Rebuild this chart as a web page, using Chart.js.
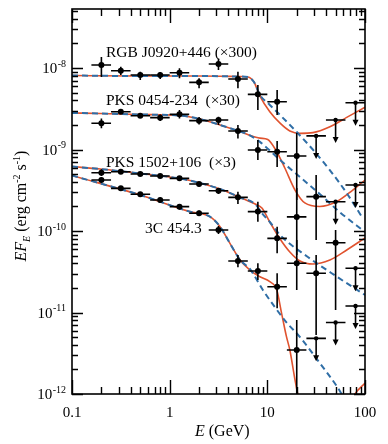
<!DOCTYPE html>
<html>
<head>
<meta charset="utf-8">
<script src="https://cdn.jsdelivr.net/npm/chart.js@4/dist/chart.umd.min.js"></script>
<style>
  html, body { margin: 0; padding: 0; background: #fff; }
  #wrap { width: 388px; height: 444px; position: relative; }
</style>
</head>
<body>
<div id="wrap"><canvas id="sed"></canvas></div>
<script>
// bin centres and bin edges (GeV)
const energies = [0.2, 0.316, 0.5, 0.8, 1.26, 2.0, 3.16, 5.0, 8.0, 12.6, 20.0, 31.6, 50.0, 80.0];
const binEdges = [0.158, 0.251, 0.398, 0.631, 1.0, 1.585, 2.512, 3.981, 6.31, 10.0, 15.85, 25.12, 39.81, 63.1, 100.0];

// RGB J0920+446 (x300)
const rgbFlux = [1.09e-8, 9.27e-9, 8.21e-9, 8.21e-9, 8.75e-9, 6.67e-9, 1.12e-8, 7.33e-9, 4.75e-9, 3.86e-9, 8.32e-10, null, null, null];
const rgbLo   = [7.77e-9, 8.21e-9, 7.13e-9, 7.33e-9, 7.48e-9, 5.63e-9, 9.45e-9, 5.63e-9, 3.05e-9, 2.65e-9, 2.40e-10, null, null, null];
const rgbHi   = [1.365e-8, 1.037e-8, 9.01e-9, 8.93e-9, 9.91e-9, 7.48e-9, 1.31e-8, 9.01e-9, 6.18e-9, 5.37e-9, 1.59e-9, null, null, null];
const rgbUL   = [null, null, null, null, null, null, null, null, null, null, null, 1.47e-9, 2.30e-9, 3.75e-9];

// PKS 0454-234 (x30)
const pks0454Flux = [2.10e-9, 2.91e-9, 2.60e-9, 2.46e-9, 2.70e-9, 2.26e-9, 2.30e-9, 1.69e-9, 9.86e-10, 9.40e-10, 1.49e-10, 2.64e-10, null, null];
const pks0454Lo   = [1.82e-9, 2.73e-9, 2.44e-9, 2.24e-9, 2.40e-9, 2.03e-9, 2.00e-9, 1.37e-9, 7.43e-10, 6.10e-10, 5.08e-11, 7.76e-11, null, null];
const pks0454Hi   = [2.41e-9, 3.14e-9, 2.81e-9, 2.69e-9, 3.05e-9, 2.51e-9, 2.53e-9, 2.00e-9, 1.31e-9, 1.27e-9, 3.37e-10, 4.86e-10, null, null];
const pks0454UL   = [null, null, null, null, null, null, null, null, null, null, null, null, 2.29e-10, 3.67e-10];

// PKS 1502+106 (x3)
const pks1502Flux = [5.19e-10, 5.34e-10, 5.00e-10, 4.73e-10, 4.43e-10, 3.78e-10, 3.12e-10, 2.59e-10, 1.73e-10, 8.13e-11, 4.02e-11, 3.03e-11, 7.18e-11, null];
const pks1502Lo   = [4.73e-10, 5.00e-10, 4.73e-10, 4.47e-10, 4.10e-10, 3.52e-10, 2.84e-10, 2.14e-10, 1.30e-10, 5.33e-11, 1.89e-11, 5.30e-12, 1.07e-11, null];
const pks1502Hi   = [5.71e-10, 5.69e-10, 5.30e-10, 5.00e-10, 4.73e-10, 3.99e-10, 3.37e-10, 3.03e-10, 2.29e-10, 1.13e-10, 7.76e-11, 5.08e-11, 1.03e-10, null];
const pks1502UL   = [null, null, null, null, null, null, null, null, null, null, null, null, null, 3.49e-11];

// 3C 454.3
const c3Flux = [4.22e-10, 3.34e-10, 2.82e-10, 2.40e-10, 1.99e-10, 1.65e-10, 1.03e-10, 4.29e-11, 3.23e-11, 2.07e-11, 3.47e-12, null, null, null];
const c3Lo   = [3.94e-10, 3.10e-10, 2.61e-10, 2.24e-10, 1.84e-10, 1.53e-10, 9.18e-11, 3.59e-11, 2.50e-11, 1.13e-11, 1.0e-12, null, null, null];
const c3Hi   = [4.53e-10, 3.57e-10, 3.01e-10, 2.58e-10, 2.14e-10, 1.79e-10, 1.15e-10, 5.08e-11, 4.02e-11, 3.03e-11, 8.09e-12, null, null, null];
const c3UL   = [null, null, null, null, null, null, null, null, null, null, null, 4.82e-12, 7.54e-12, 1.20e-11];

// absorbed model (red) and intrinsic spectrum (blue dashed)
const rgbModelE = [0.1, 0.5, 2, 5.2, 6.33, 7.3, 8.4, 10.6, 13.5, 17, 21.6, 29.3, 43.7, 65, 100];
const rgbModel  = [8.09e-9, 7.98e-9, 7.98e-9, 7.87e-9, 7.76e-9, 6.73e-9, 4.53e-9, 2.91e-9, 2.11e-9, 1.69e-9, 1.58e-9, 1.61e-9, 1.90e-9, 2.48e-9, 3.30e-9];
const rgbIntrE  = [0.1, 0.5, 2, 5.2, 6.33, 7.3, 8.4, 10.6, 13.5, 19.9, 29.5, 43.6, 64.8, 92.7];
const rgbIntr   = [8.09e-9, 7.98e-9, 7.98e-9, 7.87e-9, 7.76e-9, 6.73e-9, 4.67e-9, 3.52e-9, 2.65e-9, 1.65e-9, 9.86e-10, 5.6e-10, 2.93e-10, 1.50e-10];

const pks0454ModelE = [0.1, 0.194, 0.497, 1.27, 2.04, 3.28, 5.26, 6.63, 8.4, 10.1, 12.2, 15.1, 19.2, 24.2, 34.4, 51.5, 75, 100];
const pks0454Model  = [2.81e-9, 2.77e-9, 2.69e-9, 2.61e-9, 2.37e-9, 2.00e-9, 1.66e-9, 1.49e-9, 1.38e-9, 1.33e-9, 9.86e-10, 5.93e-10, 3.18e-10, 2.21e-10, 2.00e-10, 2.30e-10, 3.18e-10, 4.22e-10];
const pks0454IntrE  = [0.1, 0.194, 0.497, 1.27, 2.04, 3.28, 5.26, 6.63, 8.4, 13.5, 21.6, 34.4, 55, 100];
const pks0454Intr   = [2.81e-9, 2.77e-9, 2.69e-9, 2.61e-9, 2.37e-9, 2.00e-9, 1.66e-9, 1.49e-9, 1.24e-9, 7.43e-10, 4.60e-10, 2.84e-10, 1.71e-10, 9.72e-11];

const pks1502ModelE = [0.1, 0.194, 0.497, 1.27, 2.04, 3.28, 5.26, 7.5, 8.8, 10.6, 13.5, 17, 21.6, 29.3, 43.7, 65, 100];
const pks1502Model  = [6.18e-10, 5.76e-10, 5.08e-10, 4.41e-10, 3.88e-10, 3.28e-10, 2.58e-10, 2.14e-10, 1.92e-10, 1.29e-10, 7.98e-11, 5.53e-11, 4.29e-11, 3.94e-11, 4.41e-11, 5.85e-11, 8.21e-11];
const pks1502IntrE  = [0.1, 0.194, 0.497, 1.27, 2.04, 3.28, 5.26, 7.5, 8.8, 10.6, 13.5, 26, 52, 100];
const pks1502Intr   = [6.18e-10, 5.76e-10, 5.08e-10, 4.41e-10, 3.88e-10, 3.28e-10, 2.58e-10, 2.14e-10, 1.66e-10, 1.29e-10, 8.93e-11, 4.80e-11, 2.73e-11, 1.64e-11];

const c3ModelE = [0.1, 0.497, 1.61, 2.58, 3.28, 4.14, 5.26, 6.63, 8.4, 10.6, 12.5, 14.0, 15.7, 17.0, 19.2, 20.5, 24.2, 34.4, 55, 79, 100];
const c3Model  = [4.80e-10, 2.77e-10, 1.73e-10, 1.50e-10, 1.13e-10, 7.06e-11, 4.41e-11, 3.32e-11, 2.75e-11, 2.39e-11, 1.89e-11, 9.77e-12, 5.05e-12, 3.47e-12, 1.49e-12, 1.0e-12, 6.0e-13, 3.0e-13, 4.0e-13, 1.0e-12, 1.36e-12];
const c3IntrE  = [0.1, 0.497, 1.61, 2.58, 3.28, 4.14, 5.26, 6.63, 9.0, 11.9, 15.9, 21.6, 34.4, 52, 62.7];
const c3Intr   = [4.80e-10, 2.77e-10, 1.73e-10, 1.50e-10, 1.13e-10, 7.06e-11, 4.41e-11, 3.42e-11, 1.89e-11, 1.17e-11, 7.43e-12, 5.00e-12, 2.40e-12, 1.22e-12, 8.4e-13];

const sourceLabels = ['RGB J0920+446 (\u00d7300)', 'PKS 0454-234  (\u00d730)', 'PKS 1502+106  (\u00d73)', '3C 454.3'];
const xTickLabels = ['0.1', '1', '10', '100'];
const yTickExps = [-12, -11, -10, -9, -8];

const RED = '#e0532f';
const BLUE = '#2f6ea6';
const SERIF = '"Liberation Serif", "DejaVu Serif", serif';

const sources = [
	{ flux: rgbFlux, lo: rgbLo, hi: rgbHi, ul: rgbUL },
	{ flux: pks0454Flux, lo: pks0454Lo, hi: pks0454Hi, ul: pks0454UL },
	{ flux: pks1502Flux, lo: pks1502Lo, hi: pks1502Hi, ul: pks1502UL },
	{ flux: c3Flux, lo: c3Lo, hi: c3Hi, ul: c3UL },
];

function toXY(xs, ys) {
	return xs.map((x, i) => ({ x: x, y: ys[i] }));
}

function points(vals) {
	const out = [];
	vals.forEach((v, i) => { if (v != null) out.push({ x: energies[i], y: v }); });
	return out;
}

function modelLine(xs, ys, dashed) {
	return {
		type: 'line',
		data: toXY(xs, ys),
		borderColor: dashed ? BLUE : RED,
		borderWidth: dashed ? 2 : 1.6,
		borderDash: dashed ? [6, 4] : [],
		pointRadius: 0,
		fill: false,
		cubicInterpolationMode: 'monotone',
		order: dashed ? 1 : 2,
	};
}

const datasets = [
	modelLine(rgbModelE, rgbModel, false),
	modelLine(pks0454ModelE, pks0454Model, false),
	modelLine(pks1502ModelE, pks1502Model, false),
	modelLine(c3ModelE, c3Model, false),
	modelLine(rgbIntrE, rgbIntr, true),
	modelLine(pks0454IntrE, pks0454Intr, true),
	modelLine(pks1502IntrE, pks1502Intr, true),
	modelLine(c3IntrE, c3Intr, true),
];
sources.forEach((s) => {
	datasets.push({
		type: 'scatter',
		data: points(s.flux),
		pointRadius: 3,
		pointBackgroundColor: '#000',
		pointBorderWidth: 0,
		order: 0,
	});
	datasets.push({
		type: 'scatter',
		data: points(s.ul),
		pointRadius: 2.2,
		pointBackgroundColor: '#000',
		pointBorderWidth: 0,
		order: 0,
	});
});

// error bars, upper limits, frame, inward ticks and all text
const sedDecor = {
	id: 'sedDecor',
	afterDatasetsDraw(chart) {
		const ctx = chart.ctx;
		const xs = chart.scales.x;
		const ys = chart.scales.y;
		const a = chart.chartArea;
		ctx.save();
		ctx.beginPath();
		ctx.rect(a.left, a.top, a.right - a.left, a.bottom - a.top);
		ctx.clip();
		ctx.strokeStyle = '#000';
		ctx.fillStyle = '#000';
		ctx.lineWidth = 1.6;
		sources.forEach((s) => {
			energies.forEach((e, i) => {
				const x0 = xs.getPixelForValue(binEdges[i]);
				const x1 = xs.getPixelForValue(binEdges[i + 1]);
				const xc = xs.getPixelForValue(e);
				if (s.flux[i] != null) {
					const yc = ys.getPixelForValue(s.flux[i]);
					ctx.beginPath();
					ctx.moveTo(x0, yc); ctx.lineTo(x1, yc);
					ctx.moveTo(xc, ys.getPixelForValue(s.hi[i]));
					ctx.lineTo(xc, ys.getPixelForValue(s.lo[i]));
					ctx.stroke();
				}
				if (s.ul[i] != null) {
					const yc = ys.getPixelForValue(s.ul[i]);
					ctx.beginPath();
					ctx.moveTo(x0, yc); ctx.lineTo(x1, yc);
					ctx.moveTo(xc, yc); ctx.lineTo(xc, yc + 18);
					ctx.stroke();
					ctx.beginPath();
					ctx.moveTo(xc - 3, yc + 17);
					ctx.lineTo(xc + 3, yc + 17);
					ctx.lineTo(xc, yc + 23);
					ctx.closePath();
					ctx.fill();
				}
			});
		});
		ctx.restore();
	},
	afterDraw(chart) {
		const ctx = chart.ctx;
		const xs = chart.scales.x;
		const ys = chart.scales.y;
		const a = chart.chartArea;
		ctx.save();
		ctx.strokeStyle = '#000';
		ctx.fillStyle = '#000';
		ctx.lineWidth = 1.6;
		ctx.strokeRect(a.left, a.top, a.right - a.left, a.bottom - a.top);

		ctx.lineWidth = 1.4;
		ctx.beginPath();
		for (let d = -1; d <= 1; d++) {
			for (let m = 1; m <= 10; m++) {
				const v = m * Math.pow(10, d);
				const px = Math.round(xs.getPixelForValue(v)) + 0.5;
				const len = (m === 1 || m === 10) ? 14 : 7;
				ctx.moveTo(px, a.bottom); ctx.lineTo(px, a.bottom - len);
				ctx.moveTo(px, a.top); ctx.lineTo(px, a.top + len);
			}
		}
		for (let d = -12; d <= -8; d++) {
			for (let m = 1; m <= 9; m++) {
				const v = m * Math.pow(10, d);
				if (v > ys.max) break;
				const py = Math.round(ys.getPixelForValue(v)) + 0.5;
				const len = m === 1 ? 11 : 6;
				ctx.moveTo(a.left, py); ctx.lineTo(a.left + len, py);
				ctx.moveTo(a.right, py); ctx.lineTo(a.right - len, py);
			}
		}
		ctx.stroke();

		// x tick labels
		ctx.font = '15px ' + SERIF;
		ctx.textAlign = 'center';
		ctx.textBaseline = 'alphabetic';
		xTickLabels.forEach((t) => {
			ctx.fillText(t, xs.getPixelForValue(parseFloat(t)), 417);
		});

		// y tick labels: 10 with superscript exponent, right aligned
		yTickExps.forEach((p) => {
			const py = ys.getPixelForValue(Math.pow(10, p));
			const sup = String(p);
			ctx.font = '10px ' + SERIF;
			const wSup = ctx.measureText(sup).width;
			ctx.textAlign = 'right';
			ctx.fillText(sup, 66, py - 1.5);
			ctx.font = '15px ' + SERIF;
			ctx.fillText('10', 66 - wSup - 0.5, py + 5);
		});

		// x axis title
		ctx.textAlign = 'left';
		ctx.font = 'italic 16px ' + SERIF;
		ctx.fillText('E', 195, 436);
		let w = ctx.measureText('E ').width;
		ctx.font = '16px ' + SERIF;
		ctx.fillText('(GeV)', 195 + w, 436);

		// y axis title, rotated
		const parts = [
			{ t: 'EF', f: 'italic 16px ', dy: 0 },
			{ t: 'E', f: 'italic 10px ', dy: 4 },
			{ t: ' (erg cm', f: '16px ', dy: 0 },
			{ t: '-2', f: '10px ', dy: -6 },
			{ t: ' s', f: '16px ', dy: 0 },
			{ t: '-1', f: '10px ', dy: -6 },
			{ t: ')', f: '16px ', dy: 0 },
		];
		let total = 0;
		parts.forEach((p) => { ctx.font = p.f + SERIF; p.w = ctx.measureText(p.t).width; total += p.w; });
		ctx.translate(26, 206);
		ctx.rotate(-Math.PI / 2);
		let cx = -total / 2;
		parts.forEach((p) => {
			ctx.font = p.f + SERIF;
			ctx.fillText(p.t, cx, p.dy);
			cx += p.w;
		});
		ctx.setTransform(1, 0, 0, 1, 0, 0);

		// source names
		ctx.font = '15.5px ' + SERIF;
		ctx.textAlign = 'left';
		ctx.fillText(sourceLabels[0], 106, 57);
		ctx.fillText(sourceLabels[1], 106, 105);
		ctx.fillText(sourceLabels[2], 106, 166.5);
		ctx.fillText(sourceLabels[3], 145, 233);
		ctx.restore();
	}
};

new Chart(document.getElementById('sed'), {
	type: 'scatter',
	data: { datasets: datasets },
	options: {
		responsive: true,
		maintainAspectRatio: false,
		animation: false,
		layout: { padding: { left: 72, right: 23, top: 9, bottom: 50 } },
		scales: {
			x: { type: 'logarithmic', min: 0.1, max: 100, display: false },
			y: { type: 'logarithmic', min: 1e-12, max: 5.3e-8, display: false },
		},
		plugins: { legend: { display: false }, tooltip: { enabled: false } },
	},
	plugins: [sedDecor],
});
</script>
</body>
</html>
